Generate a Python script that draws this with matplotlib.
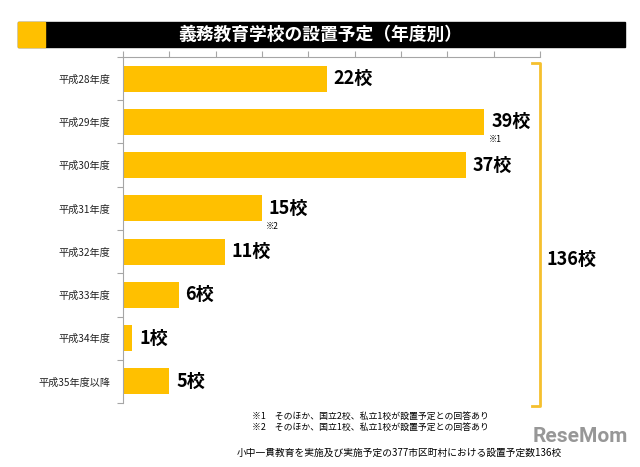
import matplotlib
matplotlib.use("Agg")
import matplotlib.pyplot as plt
from matplotlib.patches import Rectangle

plt.rcParams['font.family'] = ['Noto Sans CJK JP', 'DejaVu Sans']

years = ['平成28年度', '平成29年度', '平成30年度', '平成31年度',
         '平成32年度', '平成33年度', '平成34年度', '平成35年度以降']
schools = [22, 39, 37, 15, 11, 6, 1, 5]
notes = {1: '※1', 3: '※2'}
total = 136
footnotes = ['※1　そのほか、国立2校、私立1校が設置予定との回答あり',
             '※2　そのほか、国立1校、私立1校が設置予定との回答あり']
source = '小中一貫教育を実施及び実施予定の377市区町村における設置予定数136校'

gold = '#FFC000'
grey = '#A6A6A6'

fig = plt.figure(figsize=(6.4, 4.67), dpi=100)

# title band
fig.patches.append(Rectangle((18 / 640, 1 - 47 / 467), (625 - 18) / 640, 25 / 467,
                             transform=fig.transFigure, color='black', zorder=0))
fig.patches.append(Rectangle((18 / 640, 1 - 47 / 467), 27 / 640, 25 / 467,
                             transform=fig.transFigure, color=gold, zorder=1))
fig.text(320 / 640, 1 - 34.5 / 467, '義務教育学校の設置予定（年度別）', color='white',
         fontsize=12.8, fontweight='bold', ha='center', va='center')

ax = fig.add_axes([123 / 640, 1 - 403 / 467, (540 - 123) / 640, (403 - 57) / 467])
pos = list(range(len(years)))
ax.barh(pos, schools, height=0.6, color=gold)
ax.set_xlim(0, 45)
ax.set_ylim(len(years) - 0.5, -0.5)

ax.xaxis.tick_top()
ax.set_xticks(range(0, 46, 5))
ax.set_xticklabels([])
ax.tick_params(axis='x', length=4, color=grey, width=0.8)
ax.set_yticks(pos)
ax.set_yticklabels(years, fontsize=7.3, color='#222222')
ax.set_yticks([p - 0.5 for p in range(len(years) + 1)], minor=True)
ax.tick_params(axis='y', which='major', length=0, pad=9)
ax.tick_params(axis='y', which='minor', length=4, color=grey, width=0.8)
for s in ['right', 'bottom']:
    ax.spines[s].set_visible(False)
for s in ['top', 'left']:
    ax.spines[s].set_color(grey)
    ax.spines[s].set_linewidth(0.8)

for p, v in zip(pos, schools):
    ax.annotate(f'{v}校', (v, p), xytext=(5, 0), textcoords='offset points',
                fontsize=13, fontweight='bold', va='center', ha='left')
    if p in notes:
        ax.annotate(notes[p], (v, p), xytext=(3, -13), textcoords='offset points',
                    fontsize=6, va='center', ha='left')

# bracket for the total
bx = [532 / 640, 540 / 640, 540 / 640, 532 / 640]
by = [1 - 63 / 467, 1 - 63 / 467, 1 - 406 / 467, 1 - 406 / 467]
fig.lines.append(plt.Line2D(bx, by, transform=fig.transFigure, color='#F5C02E', lw=2))
fig.text(547 / 640, 1 - 259 / 467, f'{total}校', fontsize=13, fontweight='bold',
         va='center', ha='left')

fig.text(252 / 640, 1 - 416 / 467, footnotes[0], fontsize=6.4, va='center', ha='left')
fig.text(252 / 640, 1 - 427 / 467, footnotes[1], fontsize=6.4, va='center', ha='left')
fig.text(237 / 640, 1 - 453 / 467, source, fontsize=7, va='center', ha='left')

fig.text(580 / 640, 1 - 437 / 467, 'ReseMom', fontsize=15, fontweight='bold',
         color='#8C8C8C', alpha=0.9, va='center', ha='center', family='Roboto')

fig.savefig('out.png', dpi=100)
